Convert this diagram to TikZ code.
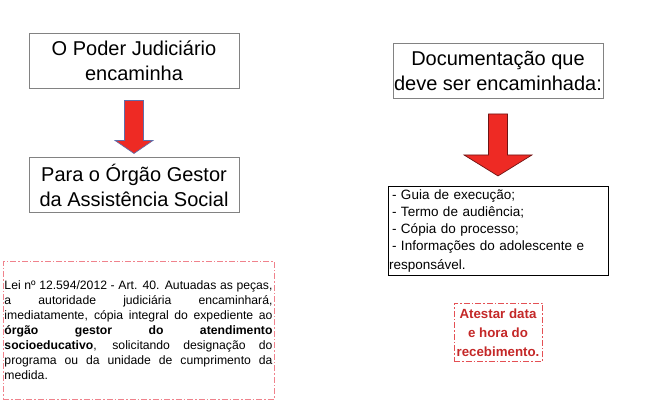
\documentclass[tikz,border=0pt]{standalone}
\usepackage{fontspec}
\setmainfont{Liberation Sans}
\usetikzlibrary{positioning}
\definecolor{arrowred}{RGB}{238,42,36}
\definecolor{notepink}{RGB}{240,130,140}
\definecolor{notered}{RGB}{228,80,84}
\definecolor{textred}{RGB}{196,40,40}
\definecolor{boxgray}{RGB}{130,130,130}

\begin{document}
\begin{tikzpicture}[x=1pt, y=-1pt, node distance=10pt, every node/.style={font=\fontsize{20}{24.5}\selectfont}, titlebox/.style={draw=boxgray, line width=0.9pt, align=center, minimum width=210pt, minimum height=55pt, inner sep=0pt}, listbox/.style={draw=black, line width=0.9pt, align=left, text width=218pt, minimum height=89pt, inner xsep=1pt, inner ysep=0pt, font=\fontsize{13.5}{17.3}\selectfont}, notebox/.style={draw=notepink, line width=0.8pt, dash pattern=on 6pt off 2pt on 1.5pt off 2pt}, fatarrow/.style={fill=arrowred, line width=0.7pt}]
\useasboundingbox (0,0) rectangle (666,409);
\node[titlebox] (judic) at (134,60.5) {O Poder Judiciário\\encaminha};
\node[titlebox, below=69pt of judic] (gestor) {Para o Órgão Gestor\\da Assistência Social};
\node[titlebox] (docs) at (498,71) {Documentação que\\deve ser encaminhada:};
\node[listbox, below=87pt of docs] (lista) {\hspace*{3pt}- Guia de execução;\\ \hspace*{3pt}- Termo de audiência;\\ \hspace*{3pt}- Cópia do processo;\\ \hspace*{3pt}- Informações do adolescente e\\[1.5pt]responsável.};
\node[notebox, text width=268pt, minimum height=138pt, inner xsep=1.5pt, inner ysep=0pt, align=justify, font=\fontsize{12.2}{15}\selectfont] (lei) at (138.5,330) {\hyphenpenalty=10000 Lei nº 12.594/2012 - Art. 40. Autuadas as peças,\linebreak a autoridade judiciária encaminhará,\linebreak imediatamente, cópia integral do expediente ao\linebreak \textbf{órgão gestor do atendimento}\linebreak \textbf{socioeducativo}, solicitando designação do\linebreak programa ou da unidade de cumprimento da\linebreak medida.};
\node[notebox, draw=notered, below=27pt of lista, minimum width=88pt, minimum height=58pt, inner sep=0pt, align=center, text=textred, font=\fontsize{13.3}{19}\selectfont\bfseries] (atestar) {Atestar data\\e hora do\\recebimento.};
% block arrows
\path (judic.south) ++(0,12) coordinate (a1);
\draw[fatarrow, draw={rgb,255:red,95;green,110;blue,170}] (a1) ++(-9.5,0) -- ++(19,0) -- ++(0,40) -- ++(9.5,0) -- ++(-19,13) -- ++(-19,-13) -- ++(9.5,0) -- cycle;
\path (docs.south) ++(0,15) coordinate (a2);
\draw[fatarrow, draw={rgb,255:red,110;green,20;blue,20}] (a2) ++(-9.5,0) -- ++(19,0) -- ++(0,41) -- ++(24.5,0) -- ++(-34,21) -- ++(-34,-21) -- ++(24.5,0) -- cycle;
\end{tikzpicture}
\end{document}
